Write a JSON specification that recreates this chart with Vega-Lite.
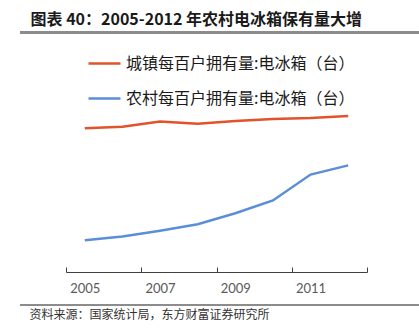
{
  "$schema": "https://vega.github.io/schema/vega-lite/v6.json",
  "width": 301,
  "height": 190,
  "autosize": {"type": "none"},
  "padding": {"left": 66, "top": 82, "right": 52, "bottom": 60},
  "background": "white",
  "config": {
    "view": {"stroke": null},
    "font": "Noto Sans CJK SC"
  },
  "data": {
    "values": [
      {"year": 2005, "series": "城镇每百户拥有量:电冰箱（台）", "value": 90.72},
      {"year": 2006, "series": "城镇每百户拥有量:电冰箱（台）", "value": 91.75},
      {"year": 2007, "series": "城镇每百户拥有量:电冰箱（台）", "value": 95.03},
      {"year": 2008, "series": "城镇每百户拥有量:电冰箱（台）", "value": 93.63},
      {"year": 2009, "series": "城镇每百户拥有量:电冰箱（台）", "value": 95.35},
      {"year": 2010, "series": "城镇每百户拥有量:电冰箱（台）", "value": 96.61},
      {"year": 2011, "series": "城镇每百户拥有量:电冰箱（台）", "value": 97.23},
      {"year": 2012, "series": "城镇每百户拥有量:电冰箱（台）", "value": 98.48},
      {"year": 2005, "series": "农村每百户拥有量:电冰箱（台）", "value": 20.1},
      {"year": 2006, "series": "农村每百户拥有量:电冰箱（台）", "value": 22.48},
      {"year": 2007, "series": "农村每百户拥有量:电冰箱（台）", "value": 26.12},
      {"year": 2008, "series": "农村每百户拥有量:电冰箱（台）", "value": 30.19},
      {"year": 2009, "series": "农村每百户拥有量:电冰箱（台）", "value": 37.11},
      {"year": 2010, "series": "农村每百户拥有量:电冰箱（台）", "value": 45.19},
      {"year": 2011, "series": "农村每百户拥有量:电冰箱（台）", "value": 61.54},
      {"year": 2012, "series": "农村每百户拥有量:电冰箱（台）", "value": 67.32}
    ]
  },
  "encoding": {
    "y": {
      "field": "value",
      "type": "quantitative",
      "scale": {"domain": [0, 120], "nice": false},
      "axis": {
        "title": null,
        "values": [0, 20, 40, 60, 80, 100, 120],
        "grid": false,
        "domainColor": "#404040",
        "domainWidth": 1,
        "tickColor": "#404040",
        "tickSize": -5,
        "labelPadding": 18,
        "labelFont": "Lato",
        "labelFontSize": 13,
        "labelColor": "#595959"
      }
    }
  },
  "layer": [
    {
      "mark": {"type": "line", "strokeWidth": 2.5},
      "encoding": {
        "x": {
          "field": "year",
          "type": "quantitative",
          "scale": {"domain": [2004.5, 2012.5], "nice": false, "zero": false},
          "axis": {
            "title": null,
            "orient": "bottom",
            "values": [2004.5, 2005, 2006.5, 2007, 2008.5, 2009, 2010.5, 2011, 2012.5],
            "labelExpr": "datum.value % 2 == 1 ? '' + datum.value : ''",
            "labelOverlap": false,
            "labelFlush": false,
            "grid": false,
            "domainColor": "#404040",
            "tickColor": "#404040",
            "tickSize": -5,
            "tickOpacity": {"condition": {"test": "datum.value % 1 == 0", "value": 0}, "value": 1},
            "labelPadding": 15,
            "labelFont": "Lato",
            "labelFontSize": 13,
            "labelColor": "#595959"
          }
        },
        "color": {
          "field": "series",
          "type": "nominal",
          "scale": {
            "domain": ["城镇每百户拥有量:电冰箱（台）", "农村每百户拥有量:电冰箱（台）"],
            "range": ["#E0532B", "#5B8ED8"]
          },
          "legend": {
            "title": null,
            "orient": "none",
            "legendX": 21,
            "legendY": -36,
            "padding": 0,
            "symbolType": "stroke",
            "symbolSize": 1024,
            "symbolStrokeWidth": 2.5,
            "labelFontSize": 16,
            "labelColor": "#1a1a1a",
            "labelOffset": 4,
            "rowPadding": 9,
            "labelLimit": 400
          }
        }
      }
    },
    {
      "mark": {"type": "point", "opacity": 0},
      "encoding": {
        "x": {
          "field": "year",
          "type": "quantitative",
          "axis": {
            "orient": "top",
            "offset": 50,
            "domain": false,
            "labels": false,
            "ticks": false,
            "title": "图表 40：2005-2012 年农村电冰箱保有量大增",
            "titleX": -36,
            "titleY": -13,
            "titleAlign": "left",
            "titleAnchor": "start",
            "titleBaseline": "middle",
            "titleFontSize": 16,
            "titleFontWeight": "bold",
            "titleColor": "#1a1a1a"
          }
        }
      }
    },
    {
      "mark": {"type": "point", "opacity": 0},
      "encoding": {
        "x": {
          "field": "year",
          "type": "quantitative",
          "axis": {
            "orient": "bottom",
            "offset": 33,
            "domain": false,
            "labels": false,
            "ticks": false,
            "title": "资料来源：国家统计局，东方财富证券研究所",
            "titleX": -37,
            "titleY": 9,
            "titleAlign": "left",
            "titleAnchor": "start",
            "titleBaseline": "middle",
            "titleFontSize": 12,
            "titleFontWeight": "normal",
            "titleColor": "#333333"
          }
        }
      }
    },
    {
      "mark": {"type": "rule", "color": "#8c8c8c", "strokeWidth": 1.5, "clip": false},
      "encoding": {
        "x": {"datum": 2003.28, "type": "quantitative", "axis": null},
        "x2": {"datum": 2013.88},
        "y": {"datum": 151.2, "type": "quantitative", "axis": null}
      }
    },
    {
      "mark": {"type": "rule", "color": "#8c8c8c", "strokeWidth": 1.5, "clip": false},
      "encoding": {
        "x": {"datum": 2003.28, "type": "quantitative", "axis": null},
        "x2": {"datum": 2013.88},
        "y": {"datum": -21.0, "type": "quantitative", "axis": null}
      }
    }
  ],
  "resolve": {"axis": {"x": "independent"}}
}
